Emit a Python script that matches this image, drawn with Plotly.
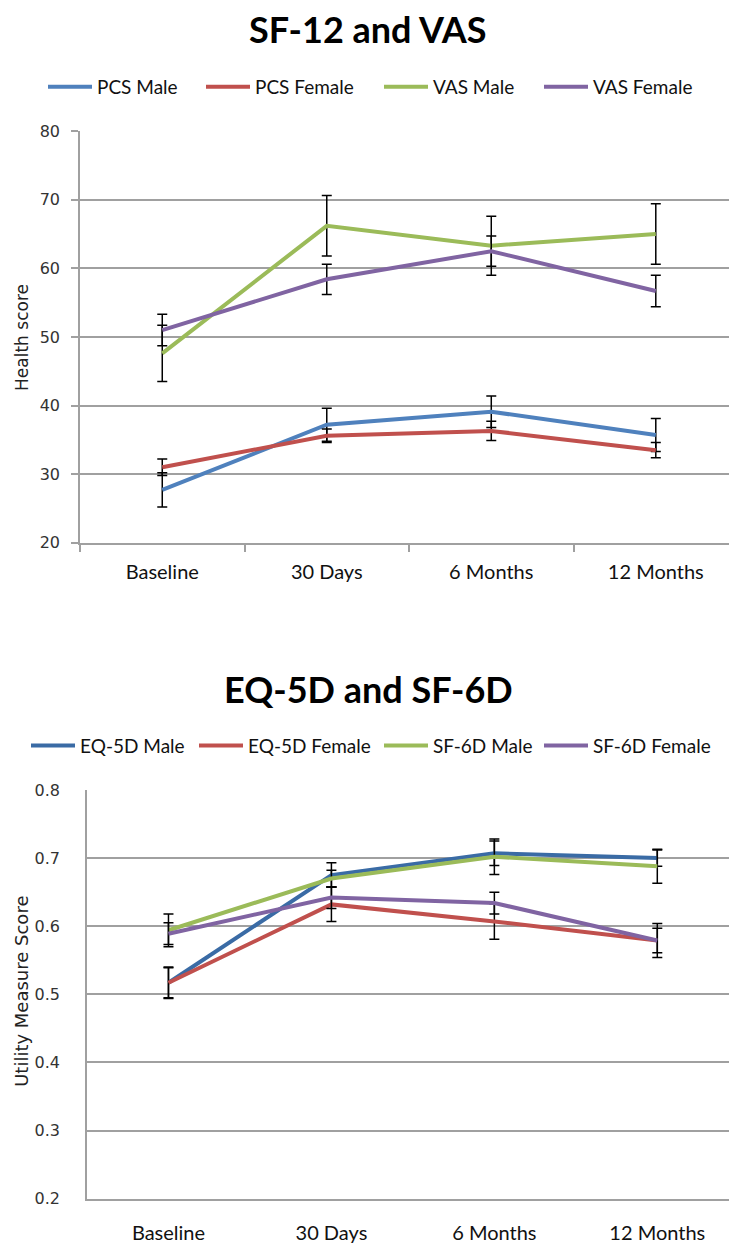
import plotly.graph_objects as go

W, H = 729, 1251

categories = ["Baseline", "30 Days", "6 Months", "12 Months"]

# Top chart: SF-12 and VAS
pcs_male = [27.7, 37.2, 39.1, 35.7]
pcs_male_err = [2.5, 2.4, 2.3, 2.4]
pcs_female = [31.0, 35.6, 36.3, 33.5]
pcs_female_err = [1.2, 1.0, 1.4, 1.1]
vas_male = [47.6, 66.2, 63.3, 65.0]
vas_male_err = [4.1, 4.4, 4.3, 4.4]
vas_female = [51.0, 58.4, 62.5, 56.7]
vas_female_err = [2.3, 2.2, 2.2, 2.3]

# Bottom chart: EQ-5D and SF-6D
eq_male = [0.517, 0.675, 0.707, 0.700]
eq_male_err = [0.023, 0.018, 0.018, 0.012]
eq_female = [0.517, 0.632, 0.607, 0.579]
eq_female_err = [0.022, 0.025, 0.026, 0.025]
sf_male = [0.594, 0.670, 0.702, 0.688]
sf_male_err = [0.024, 0.012, 0.026, 0.025]
sf_female = [0.589, 0.642, 0.634, 0.579]
sf_female_err = [0.016, 0.016, 0.016, 0.018]

top_names = ["PCS Male", "PCS Female", "VAS Male", "VAS Female"]
bot_names = ["EQ-5D Male", "EQ-5D Female", "SF-6D Male", "SF-6D Female"]
top_colors = ["#4F81BD", "#C0504D", "#9BBB59", "#8064A2"]
bot_colors = ["#3A6BA5", "#C0504D", "#9BBB59", "#8064A2"]

LEG_FONT = dict(family="Lato", size=19, color="#111111")
TICK_FONT = dict(family="DejaVu Sans", size=16, color="#333333")
CAT_FONT = dict(family="Lato", size=20, color="#111111")
GRID = "#A0A0A0"

fig = go.Figure()

top_series = [(pcs_male, pcs_male_err), (pcs_female, pcs_female_err),
              (vas_male, vas_male_err), (vas_female, vas_female_err)]
bot_series = [(eq_male, eq_male_err), (eq_female, eq_female_err),
              (sf_male, sf_male_err), (sf_female, sf_female_err)]

top_leg_x = [49, 207, 385, 545]
bot_leg_x = [32, 200, 385, 545]

layout_legends = {}
for i, ((vals, errs), name, col) in enumerate(zip(top_series, top_names, top_colors)):
    lg = "legend" if i == 0 else f"legend{i + 1}"
    fig.add_trace(go.Scatter(
        x=categories, y=vals, name=name, mode="lines",
        line=dict(color=col, width=4),
        error_y=dict(type="data", array=errs, visible=True, color="black", thickness=1.5, width=5),
        xaxis="x", yaxis="y", legend=lg,
    ))
    layout_legends[lg] = dict(x=(top_leg_x[i] - 6) / W, y=1 - 79 / H, xanchor="left", yanchor="middle",
                              font=LEG_FONT, bgcolor="rgba(0,0,0,0)", orientation="h", itemwidth=44)

for i, ((vals, errs), name, col) in enumerate(zip(bot_series, bot_names, bot_colors)):
    lg = f"legend{i + 5}"
    fig.add_trace(go.Scatter(
        x=categories, y=vals, name=name, mode="lines",
        line=dict(color=col, width=4),
        error_y=dict(type="data", array=errs, visible=True, color="black", thickness=1.5, width=5),
        xaxis="x2", yaxis="y2", legend=lg,
    ))
    layout_legends[lg] = dict(x=(bot_leg_x[i] - 6) / W, y=1 - 748 / H, xanchor="left", yanchor="middle",
                              font=LEG_FONT, bgcolor="rgba(0,0,0,0)", orientation="h", itemwidth=44)

fig.update_layout(
    width=W, height=H,
    margin=dict(l=0, r=0, t=0, b=0),
    paper_bgcolor="white", plot_bgcolor="white",
    showlegend=True,
    **layout_legends,
    xaxis=dict(domain=[80 / W, 1], range=[-0.5, 3.445], type="category",
               showgrid=False, showline=True, linecolor=GRID, linewidth=1.5,
               ticks="outside", tickson="boundaries", ticklen=7, tickcolor=GRID, tickwidth=1.5,
               tickfont=CAT_FONT, ticklabelstandoff=10, anchor="y", fixedrange=True),
    yaxis=dict(domain=[(H - 542) / H, (H - 124) / H], range=[20, 80], dtick=10,
               showgrid=True, gridcolor=GRID, gridwidth=1.5, zeroline=False,
               showline=True, linecolor=GRID, linewidth=1.5,
               ticks="outside", ticklen=7, tickcolor=GRID, tickwidth=1.5,
               tickfont=TICK_FONT, ticklabelstandoff=8, anchor="x"),
    xaxis2=dict(domain=[87 / W, 1], range=[-0.5, 3.44], type="category",
                showgrid=False, showline=True, linecolor=GRID, linewidth=1.5,
                ticks="", tickfont=CAT_FONT, ticklabelstandoff=16, anchor="y2"),
    yaxis2=dict(domain=[(H - 1208) / H, (H - 793) / H], range=[0.2, 0.8], dtick=0.1,
                tickformat=".1f", showgrid=True, gridcolor=GRID, gridwidth=1.5, zeroline=False,
                showline=True, linecolor=GRID, linewidth=1.5, ticks="",
                tickfont=TICK_FONT, ticklabelstandoff=22, anchor="x2"),
)

fig.add_annotation(text="<b>SF-12 and VAS</b>", x=0.505, y=1 - 20 / H, xref="paper", yref="paper",
                   showarrow=False, font=dict(family="Lato", size=36, color="#000000"),
                   xanchor="center", yanchor="middle")
fig.add_annotation(text="<b>EQ-5D and SF-6D</b>", x=0.505, y=1 - 690 / H, xref="paper", yref="paper",
                   showarrow=False, font=dict(family="Lato", size=36, color="#000000"),
                   xanchor="center", yanchor="middle")
fig.add_annotation(text="Health score", x=22 / W, y=1 - 334 / H, xref="paper", yref="paper",
                   showarrow=False, textangle=-90, font=dict(family="DejaVu Sans", size=17, color="#222222"),
                   xanchor="center", yanchor="middle")
fig.add_annotation(text="Utility Measure Score", x=22 / W, y=1 - 998 / H, xref="paper", yref="paper",
                   showarrow=False, textangle=-90, font=dict(family="DejaVu Sans", size=18, color="#222222"),
                   xanchor="center", yanchor="middle")

fig.write_html("out.html")
